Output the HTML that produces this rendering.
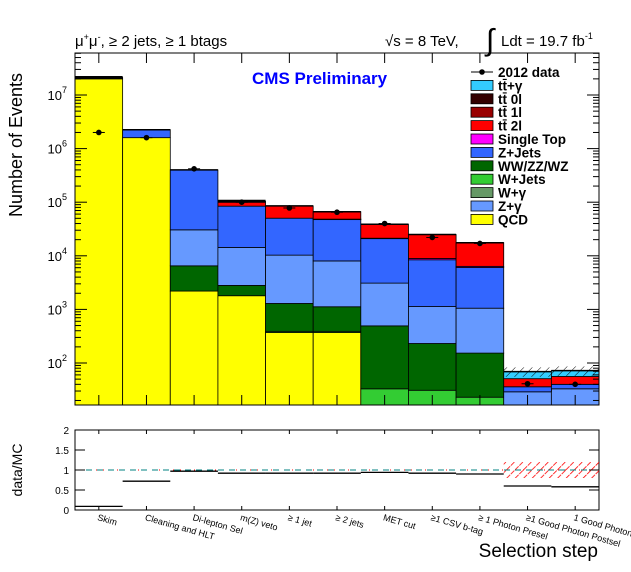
<!DOCTYPE html>
<html><head><meta charset="utf-8">
<style>
html,body{margin:0;padding:0;background:#fff;}
svg{display:block;font-family:"Liberation Sans",sans-serif;}
</style></head>
<body>
<svg id="c" width="631" height="572" viewBox="0 0 631 572">
<defs>
<pattern id="hatch" width="6" height="6" patternUnits="userSpaceOnUse" patternTransform="rotate(45)">
<line x1="0" y1="0" x2="0" y2="6" stroke="#000" stroke-width="1"/></pattern>
<pattern id="hatchr" width="6" height="6" patternUnits="userSpaceOnUse" patternTransform="rotate(45)">
<line x1="0" y1="0" x2="0" y2="6" stroke="#f00" stroke-width="1.6" stroke-dasharray="4,1"/></pattern>
</defs>
<text x="75" y="46" font-size="15">μ<tspan font-size="9" dy="-6">+</tspan><tspan dy="6">μ</tspan><tspan font-size="9" dy="-6">-</tspan><tspan dy="6">, ≥ 2 jets, ≥ 1 btags</tspan></text>
<text x="385" y="46" font-size="15">√s = 8 TeV,</text>
<text x="486" y="50" font-size="30" font-style="italic">∫</text>
<text x="501" y="46" font-size="15">Ldt = 19.7 fb<tspan font-size="9" dy="-7">-1</tspan></text>
<text x="252" y="84" font-size="17" font-weight="bold" fill="#0000ff">CMS Preliminary</text>
<text transform="translate(22,145) rotate(-90)" text-anchor="middle" font-size="18">Number of Events</text>
<text transform="translate(22,470) rotate(-90)" text-anchor="middle" font-size="14">data/MC</text>
<text x="598" y="557" text-anchor="end" font-size="19">Selection step</text>
<g id="main"></g>
</svg>
<script>
const categories=["Skim","Cleaning and HLT","Di-lepton Sel","m(Z) veto","≥ 1 jet","≥ 2 jets","MET cut","≥1 CSV b-tag","≥ 1 Photon Presel","≥1 Good Photon Postsel","1 Good Photon P"];
const qcd=[2.0e7,1.6e6,2200,1800,370,370,0,0,0,0,0];
const wjets=[0,0,0,0,20,20,33,31,23,0,0];
const diboson=[0,0,4300,1000,900,730,460,200,130,0,0];
const zgamma=[0,0,24000,11500,9000,6900,2600,900,900,29,33];
const zjets=[0,6.5e5,3.7e5,70000,40000,40000,18000,7300,5000,7,7];
const singletop=[0,0,0,0,0,300,200,500,300,0,0];
const tt2l=[0,0,0,20000,35000,18000,17500,16000,11200,15,16];
const tt1l=[0,0,0,0,0,0,0,0,0,0,0];
const tt0l=[1.2e6,0,0,0,0,0,0,0,0,0,0];
const ttgamma=[0,0,0,0,0,0,0,0,0,18,16];
const data=[2.0e6,1.6e6,4.2e5,1.0e5,7.8e4,6.5e4,4.0e4,2.2e4,1.7e4,41,40];
const ratio=[0.09,0.72,0.97,0.92,0.92,0.92,0.94,0.92,0.90,0.6,0.58];
const yTicks=[2,3,4,5,6,7];
const rTicks=["0","0.5","1","1.5","2"];

const NS="http://www.w3.org/2000/svg";
const g=document.getElementById('main');
const X0=75,X1=599,Y0=53,Y1=405;
const bw=(X1-X0)/categories.length;
const xb=i=>X0+i*bw;
const ly=v=>95-(Math.log10(v)-7)*53.6;
const ry=v=>510-v*40;
function el(t,a){const e=document.createElementNS(NS,t);for(const k in a)e.setAttribute(k,a[k]);g.appendChild(e);return e;}

const layers=[[qcd,"#ffff00","qcd"],[wjets,"#33cc33","w-jets"],[diboson,"#006600","diboson"],[zgamma,"#6699ff","z-gamma"],[zjets,"#3366ff","z-jets"],[singletop,"#ff00ff","single-top"],[tt2l,"#ff0000","tt-2l"],[tt1l,"#990000","tt-1l"],[tt0l,"#330000","tt-0l"],[ttgamma,"#33ccff","tt-gamma"]];
const cum=categories.map(()=>0);
layers.forEach(([arr,col,nm])=>{
  for(let i=0;i<categories.length;i++){
    if(arr[i]<=0)continue;
    const lo=cum[i],hi=cum[i]+arr[i];cum[i]=hi;
    const yt=ly(hi),yb=lo>0?ly(lo):Y1;
    const r=el('rect',{x:xb(i),y:yt,width:bw,height:Math.max(0.5,Math.min(Y1,yb)-yt),fill:col,stroke:'#000','stroke-width':0.8});
    
    
  }
});
for(let i=0;i<categories.length;i++){
  const ln=el('line',{x1:xb(i),x2:xb(i+1),y1:ly(cum[i]),y2:ly(cum[i]),stroke:'#000','stroke-width':i==0||i==3?3:1.5});
  
  
  if(i>=9){
    const h=el('rect',{x:xb(i),y:ly(cum[i]*1.2),width:bw,height:ly(cum[i]*0.8)-ly(cum[i]*1.2),fill:'url(#hatch)'});
    
    
  }
}
data.forEach((v,i)=>{
  const cx=xb(i)+bw/2;
  const c=el('circle',{cx:cx,cy:ly(v),r:2.8,fill:'#000'});
  
  
  el('line',{x1:cx-6,x2:cx+6,y1:ly(v),y2:ly(v),stroke:'#000'});
});
const f=el('rect',{x:X0,y:Y0,width:X1-X0,height:Y1-Y0,fill:'none',stroke:'#000'});


const dmin=Math.log10(16.6),dmax=7.78;
for(let d=1;d<=7;d++){for(let m=1;m<10;m++){const lv=d+Math.log10(m);if(lv<dmin||lv>dmax)continue;const y=ly(Math.pow(10,lv));const L=m==1?12:6;el('line',{x1:X0,x2:X0+L,y1:y,y2:y,stroke:'#000'});el('line',{x1:X1,x2:X1-L,y1:y,y2:y,stroke:'#000'});}}
yTicks.forEach(d=>{const t=el('text',{x:X0-8,y:ly(Math.pow(10,d))+5,'text-anchor':'end','font-size':13});t.innerHTML='10<tspan font-size="9" dy="-7">'+d+'</tspan>';
  
  });
for(let i=0;i<categories.length;i++){const x=xb(i)+bw/2;el('line',{x1:x,x2:x,y1:Y0,y2:Y0+10,stroke:'#000'});el('line',{x1:x,x2:x,y1:Y1,y2:Y1-10,stroke:'#000'});}
const leg=[["2012 data",null],["tt̄+γ","#33ccff"],["tt̄ 0l","#330000"],["tt̄ 1l","#990000"],["tt̄ 2l","#ff0000"],["Single Top","#ff00ff"],["Z+Jets","#3366ff"],["WW/ZZ/WZ","#006600"],["W+Jets","#33cc33"],["W+γ","#669966"],["Z+γ","#6699ff"],["QCD","#ffff00"]];
leg.forEach(([lab,col],k)=>{
  const y=72+k*13.4;
  if(col){const r=el('rect',{x:471,y:y-5,width:22,height:10,fill:col,stroke:'#000','stroke-width':0.8});}
  else{el('line',{x1:471,x2:493,y1:y,y2:y,stroke:'#000'});el('circle',{cx:482,cy:y,r:2.8,fill:'#000'});}
  const t=el('text',{x:498,y:y+5,'font-size':13.5,'font-weight':'bold'});t.textContent=lab;
  
  
});
const R0=430,R1=510;
const rf=el('rect',{x:X0,y:R0,width:X1-X0,height:R1-R0,fill:'none',stroke:'#000'});


const hr=el('rect',{x:xb(9),y:ry(1.2),width:bw*2,height:ry(0.8)-ry(1.2),fill:'url(#hatchr)'});


el('line',{x1:X0,x2:X1,y1:ry(1),y2:ry(1),stroke:'#f00','stroke-dasharray':'1,6'});
const ul=el('line',{x1:X0,x2:X1,y1:ry(1),y2:ry(1),stroke:'#008080','stroke-dasharray':'6,5'});


rTicks.forEach(s=>{const v=parseFloat(s),y=ry(v);el('line',{x1:X0,x2:X0+10,y1:y,y2:y,stroke:'#000'});el('line',{x1:X1,x2:X1-10,y1:y,y2:y,stroke:'#000'});const t=el('text',{x:X0-6,y:y+4,'text-anchor':'end','font-size':10});t.textContent=s;
  
  });
ratio.forEach((v,i)=>{const l=el('line',{x1:xb(i),x2:xb(i+1),y1:ry(v),y2:ry(v),stroke:'#000','stroke-width':1.3});
  
  });
categories.forEach((c,i)=>{const x=xb(i)+bw/2;el('line',{x1:x,x2:x,y1:R0,y2:R0+4,stroke:'#000'});el('line',{x1:x,x2:x,y1:R1,y2:R1-4,stroke:'#000'});
  const t=el('text',{transform:'translate('+(x-2)+','+(R1+10)+') rotate(16)','font-size':9});t.textContent=c;
  
  });
</script>
</body></html>
